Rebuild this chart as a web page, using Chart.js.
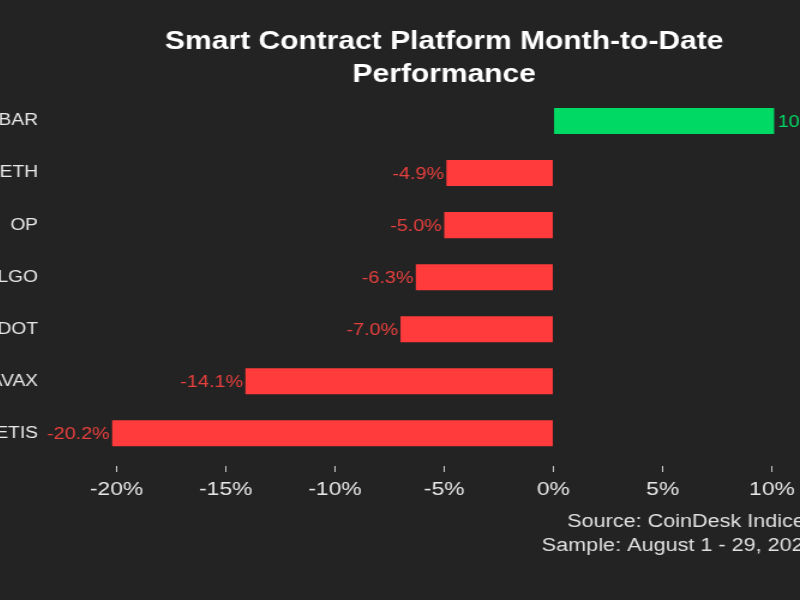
<!DOCTYPE html>
<html>
<head>
<meta charset="utf-8">
<script src="https://cdn.jsdelivr.net/npm/chart.js@4"></script>
<style>
  html, body { margin: 0; padding: 0; background: #232323; overflow: hidden; }
  /* the reference picture is slightly wide, so stretch the canvas horizontally */
  #wrap { position: absolute; left: -40px; top: 0; width: 725px; height: 600px;
          transform: scaleX(1.2); transform-origin: 0 0; }
</style>
</head>
<body>
<div id="wrap"><canvas id="mtdChart" width="725" height="600"></canvas></div>
<script>
const platforms = ['HBAR', 'ETH', 'OP', 'ALGO', 'DOT', 'AVAX', 'METIS'];
const mtdReturns = [10.1, -4.9, -5.0, -6.3, -7.0, -14.1, -20.2];
const xTicks = [-20, -15, -10, -5, 0, 5, 10];

const GREEN = '#00d964';
const RED = '#ff3b3b';
const FONT = '"Liberation Sans", Arial, Helvetica, sans-serif';

// value labels at the end of each bar
const barLabels = {
  id: 'barLabels',
  afterDatasetsDraw(chart) {
    const ctx = chart.ctx;
    const meta = chart.getDatasetMeta(0);
    ctx.save();
    ctx.font = '16.5px ' + FONT;
    ctx.textBaseline = 'middle';
    meta.data.forEach((bar, i) => {
      const v = mtdReturns[i];
      const txt = v.toFixed(1) + '%';
      if (v < 0) {
        ctx.fillStyle = '#e8403e';
        ctx.textAlign = 'right';
        ctx.fillText(txt, bar.x - 2, bar.y + 1);
      } else {
        ctx.fillStyle = GREEN;
        ctx.textAlign = 'left';
        ctx.fillText(txt, bar.x + 3, bar.y + 1);
      }
    });
    ctx.restore();
  }
};

let chart;
function renderChart() {
  const ctx = document.getElementById('mtdChart');
  if (chart) chart.destroy();
  chart = new Chart(ctx, {
    type: 'bar',
    data: {
      labels: platforms,
      datasets: [{
        data: mtdReturns,
        backgroundColor: mtdReturns.map(v => v < 0 ? RED : GREEN),
        borderWidth: 0,
        barPercentage: 0.5,
        categoryPercentage: 1
      }]
    },
    options: {
      indexAxis: 'y',
      responsive: false,
      animation: false,
      layout: { padding: { left: 0, right: 12, top: 0, bottom: 0 } },
      plugins: {
        legend: { display: false },
        tooltip: { enabled: false },
        title: {
          display: true,
          fullSize: false,
          text: ['Smart Contract Platform Month-to-Date', 'Performance'],
          color: '#ffffff',
          font: { family: FONT, size: 25, weight: 'bold', lineHeight: 1.3 },
          padding: { top: 26, bottom: 4 }
        },
        subtitle: {
          display: true,
          position: 'bottom',
          align: 'end',
          fullSize: false,
          text: ['Source: CoinDesk Indices', 'Sample: August 1 - 29, 2023'],
          color: '#e0e0e0',
          font: { family: FONT, size: 18, lineHeight: 1.33 },
          padding: { top: 3, bottom: 42 }
        }
      },
      scales: {
        x: {
          min: -22,
          max: 12,
          afterBuildTicks: scale => { scale.ticks = xTicks.map(v => ({ value: v })); },
          grid: {
            drawOnChartArea: false,
            drawTicks: true,
            tickLength: 13,
            tickColor: '#cccccc',
            tickBorderDash: [6, 7],
            tickBorderDashOffset: 6
          },
          border: { display: false },
          ticks: {
            color: '#e8e8e8',
            padding: 6,
            font: { family: FONT, size: 19 },
            callback: v => v + '%'
          }
        },
        y: {
          afterFit: scale => { scale.width = 94; },
          grid: { display: false, drawTicks: false },
          border: { display: false },
          ticks: {
            color: '#e8e8e8',
            padding: 29,
            font: { family: FONT, size: 16 }
          }
        }
      }
    },
    plugins: [barLabels]
  });
}
renderChart();
</script>
</body>
</html>
